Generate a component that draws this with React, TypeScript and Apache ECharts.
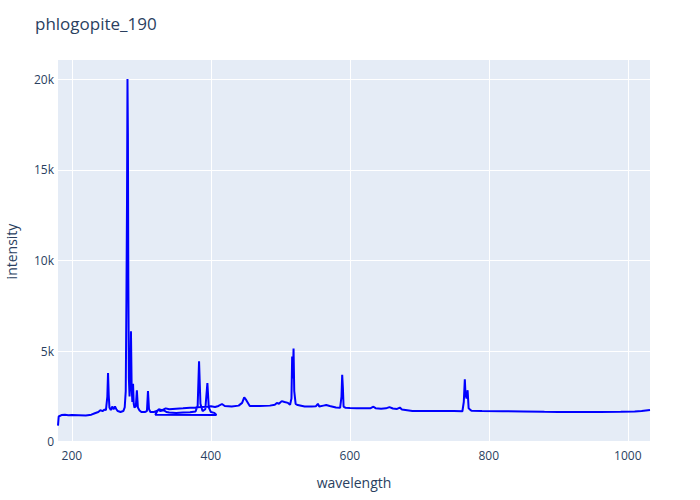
import React, { useEffect, useRef } from "react";
import * as echarts from "echarts";

const TITLE = "phlogopite_190";
const X_NAME = "wavelength";
const Y_NAME = "intensity";

// Spectrum segment 1 (wavelength nm, intensity)
const segA: [number, number][] = [
  [180, 900], [181, 1400], [185, 1480], [190, 1500], [195, 1470], [200, 1480],
  [210, 1470], [220, 1460], [228, 1500], [233, 1580], [238, 1650], [241, 1750],
  [244, 1700], [247, 1780], [249, 1750], [251, 2500], [252, 3800], [253, 2600],
  [254, 1900], [256, 1750], [258, 1950], [260, 1800], [262, 1950], [264, 1800],
  [266, 1700], [270, 1650], [274, 1700], [276, 1900], [277.5, 2800], [278.5, 8000],
  [279.3, 13100], [280, 20000], [280.6, 17000], [281.2, 9000], [282, 3500],
  [283, 2500], [284, 3500], [285, 6100], [286, 3000], [287, 2200], [288, 3200],
  [289, 2100], [290, 1900], [292, 1950], [293.5, 2850], [295, 1900], [297, 1750],
  [300, 1650], [305, 1650], [308, 1700], [309.5, 2800], [311, 1800], [313, 1650],
  [318, 1650], [322, 1700], [325, 1780], [327, 1700], [332, 1750], [336, 1650],
  [340, 1620], [350, 1600], [360, 1620], [370, 1640], [378, 1680], [381, 2000],
  [383, 4450], [385, 2100], [388, 1700], [392, 1800], [395, 3240], [397, 1900],
  [400, 1650], [405, 1600], [408, 1480],
];

// Spectrum segment 2 (wavelength nm, intensity)
const segB: [number, number][] = [
  [320, 1500], [323, 1700], [325, 1800], [330, 1750], [335, 1850], [340, 1800],
  [350, 1830], [360, 1850], [370, 1880], [378, 1900], [385, 1930], [395, 1940],
  [400, 1960], [406, 1920], [411, 1980], [416, 2090], [420, 1980], [430, 1950],
  [440, 2000], [445, 2150], [448, 2460], [451, 2300], [456, 1980], [470, 1980],
  [485, 2000], [492, 2050], [495, 2150], [498, 2100], [502, 2250], [506, 2200],
  [511, 2150], [514, 2050], [516, 2400], [517, 4700], [518, 3500], [519, 5150],
  [520, 2800], [522, 2100], [525, 2030], [535, 1950], [545, 1950], [551, 1960],
  [554, 2100], [556, 1950], [562, 2000], [566, 2030], [571, 1980], [580, 1900],
  [586, 1880], [588, 2500], [589, 3700], [590, 3000], [591, 1950], [594, 1880],
  [600, 1870], [610, 1860], [620, 1850], [630, 1860], [634, 1940], [637, 1860],
  [645, 1830], [652, 1850], [657, 1920], [662, 1840], [668, 1820], [672, 1890],
  [675, 1790], [690, 1700], [720, 1710], [750, 1700], [762, 1690], [764, 2200],
  [765.5, 3450], [766.5, 2600], [768, 2400], [769.5, 2850], [771, 1850],
  [773, 1780], [775, 1720], [790, 1700], [820, 1690], [850, 1680], [880, 1660],
  [900, 1650], [930, 1650], [960, 1650], [990, 1660], [1010, 1670],
  [1020, 1700], [1032, 1760],
];

const X_MIN = 180;
const X_MAX = 1032;
const Y_MIN = -60;
const Y_MAX = 21050;

const FONT = '"Open Sans", verdana, arial, sans-serif';
const TEXT_COLOR = "#2a3f5f";

export default function App() {
  const ref = useRef<HTMLDivElement>(null);
  useEffect(() => {
    if (!ref.current) return;
    const chart = echarts.init(ref.current, undefined, { renderer: "svg" });
    const data = [...segA, ...segB];
    chart.setOption({
      animation: false,
      backgroundColor: "#ffffff",
      textStyle: { fontFamily: FONT },
      title: {
        text: TITLE,
        left: 35,
        top: 15,
        padding: 0,
        textStyle: { fontFamily: FONT, fontSize: 17, fontWeight: "normal", color: TEXT_COLOR },
      },
      grid: {
        left: 58,
        right: 50,
        top: 60,
        bottom: 57,
        show: true,
        backgroundColor: "#E5ECF6",
        borderWidth: 0,
        containLabel: false,
        outerBoundsMode: "none",
      },
      xAxis: {
        type: "value",
        min: X_MIN,
        max: X_MAX,
        name: X_NAME,
        nameLocation: "middle",
        nameGap: 32,
        nameTextStyle: { fontFamily: FONT, fontSize: 14, color: TEXT_COLOR },
        axisLine: { show: false },
        axisTick: { show: false },
        axisLabel: {
          showMinLabel: false,
          showMaxLabel: false,
          margin: 6,
          fontFamily: FONT,
          fontSize: 12,
          color: TEXT_COLOR,
          formatter: (v: number) => String(v),
        },
        splitLine: {
          show: true,
          showMinLine: false,
          showMaxLine: false,
          lineStyle: { color: "#ffffff", width: 1 },
        },
      },
      yAxis: {
        type: "value",
        min: Y_MIN,
        max: Y_MAX,
        name: Y_NAME,
        nameLocation: "middle",
        nameGap: 40,
        nameTextStyle: { fontFamily: FONT, fontSize: 14, color: TEXT_COLOR },
        axisLine: { show: false },
        axisTick: { show: false },
        axisLabel: {
          showMinLabel: false,
          showMaxLabel: false,
          margin: 4,
          fontFamily: FONT,
          fontSize: 12,
          color: TEXT_COLOR,
          formatter: (v: number) => (v === 0 ? "0" : `${v / 1000}k`),
        },
        splitLine: {
          show: true,
          showMinLine: false,
          showMaxLine: false,
          lineStyle: { color: "#ffffff", width: 1 },
        },
      },
      series: [
        {
          type: "line",
          data,
          showSymbol: false,
          symbol: "none",
          lineStyle: { color: "#0000ff", width: 2 },
          itemStyle: { color: "#0000ff" },
          markLine: {
            silent: true,
            symbol: "none",
            label: { show: false },
            lineStyle: { color: "#ffffff", width: 2, type: "solid" },
            data: [{ yAxis: 0 }],
            z: 1,
          },
        },
      ],
    });
    return () => chart.dispose();
  }, []);
  return (
    <div
      ref={ref}
      style={{ position: "fixed", left: 0, top: 0, width: 700, height: 500 }}
    />
  );
}
